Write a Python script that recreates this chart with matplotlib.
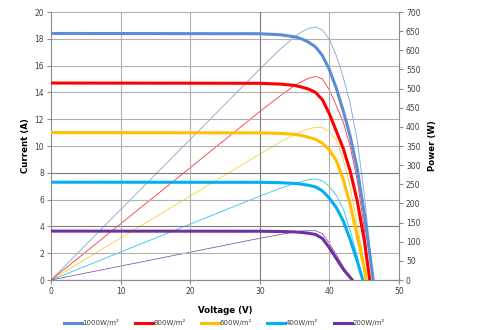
import matplotlib.pyplot as plt

# PV module at different irradiance levels: I-V (thick) and P-V (thin)
labels = ["1000W/m²", "800W/m²", "600W/m²", "400W/m²", "200W/m²"]
colors = ["#5b8cd6", "#ff0000", "#ffc000", "#00b0f0", "#7030a0"]

v_1000 = [0, 30, 33, 35, 36, 37, 38, 39, 40, 41, 42, 43, 44, 45, 46.3]
i_1000 = [18.4, 18.38, 18.3, 18.15, 18.0, 17.75, 17.4, 16.75, 15.7, 14.3, 12.6, 10.7, 8.3, 5.0, 0]
p_1000 = [0, 551, 604, 635, 648, 657, 661, 653, 628, 586, 529, 460, 365, 225, 0]

v_800 = [0, 30, 33, 35, 36, 37, 38, 39, 40, 41, 42, 43, 44, 45, 45.8]
i_800 = [14.7, 14.68, 14.62, 14.52, 14.4, 14.25, 14.0, 13.45, 12.4, 11.1, 9.8, 8.1, 5.9, 3.0, 0]
p_800 = [0, 440, 482, 508, 518, 527, 532, 525, 496, 455, 412, 348, 260, 135, 0]

v_600 = [0, 30, 33, 35, 36, 37, 38, 39, 40, 41, 42, 43, 44, 45, 45.3]
i_600 = [11.0, 10.98, 10.94, 10.87, 10.78, 10.65, 10.5, 10.2, 9.7, 8.9, 7.5, 5.6, 3.3, 0.9, 0]
p_600 = [0, 329, 361, 380, 388, 394, 399, 398, 388, 365, 315, 241, 145, 40, 0]

v_400 = [0, 30, 33, 35, 36, 37, 38, 39, 40, 41, 42, 43, 44, 44.8]
i_400 = [7.3, 7.29, 7.26, 7.21, 7.15, 7.07, 6.95, 6.65, 6.1, 5.4, 4.4, 3.0, 1.4, 0]
p_400 = [0, 219, 240, 252, 257, 262, 264, 259, 244, 221, 185, 129, 62, 0]

v_200 = [0, 30, 33, 35, 36, 37, 38, 39, 40, 41, 42, 43.3]
i_200 = [3.65, 3.64, 3.62, 3.59, 3.55, 3.49, 3.4, 3.1, 2.4, 1.6, 0.8, 0]
p_200 = [0, 109, 119, 126, 128, 129, 129, 121, 96, 66, 34, 0]

volts = [v_1000, v_800, v_600, v_400, v_200]
amps = [i_1000, i_800, i_600, i_400, i_200]
watts = [p_1000, p_800, p_600, p_400, p_200]

current_ticks = list(range(0, 21, 2))
power_ticks = list(range(0, 701, 50))
voltage_ticks = list(range(0, 51, 10))

tick_color = "#404040"
fs = 5.5

fig = plt.figure(figsize=(4.82, 3.30), dpi=100)
ax = fig.add_axes([0.1058, 0.1515, 0.722, 0.8121])
ax2 = ax.twinx()

ax.set_xlim(0, 50)
ax.set_ylim(0, 20)
ax2.set_ylim(0, 700)
ax.set_xticks(voltage_ticks)
ax.set_yticks(current_ticks)
ax2.set_yticks(power_ticks)

# grid: light lines, a few darker ones as in the original
for y in current_ticks:
    ax.axhline(y, color="#7c7c7c" if y in (4, 8) else "#b0b0b0", lw=0.8, zorder=0)
for x in voltage_ticks[1:]:
    ax.axvline(x, color="#7c7c7c" if x == 30 else "#b0b0b0", lw=0.8, zorder=0)

handles = []
for v, i, p, c, lab in zip(volts, amps, watts, colors, labels):
    ax2.plot(v, p, color=c, lw=0.6, alpha=0.8, zorder=2)
    h, = ax.plot(v, i, color=c, lw=2.2, label=lab, zorder=3)
    handles.append(h)

ax.set_zorder(ax2.get_zorder() + 1)
ax.patch.set_visible(False)

for a in (ax, ax2):
    for s in a.spines.values():
        s.set_color("#8c8c8c")
        s.set_linewidth(0.8)
    a.spines["top"].set_visible(False)
    a.tick_params(labelsize=fs, colors="#8c8c8c", labelcolor=tick_color,
                  length=3, width=0.8, direction="out", pad=2)
ax.spines["right"].set_visible(False)
ax2.spines["left"].set_visible(False)

ax.set_xlabel("Voltage (V)", fontsize=6.2, fontweight="bold", labelpad=7)
ax.set_ylabel("Current (A)", fontsize=6.2, fontweight="bold", labelpad=3)
ax2.set_ylabel("Power (W)", fontsize=6.2, fontweight="bold", labelpad=5)

fig.legend(handles=handles, loc="center", bbox_to_anchor=(0.465, 0.022),
           ncol=5, frameon=False, fontsize=5, handlelength=2.6,
           handletextpad=0.1, columnspacing=2.2, labelcolor=tick_color)

fig.savefig("out.png", dpi=100)
plt.close(fig)
